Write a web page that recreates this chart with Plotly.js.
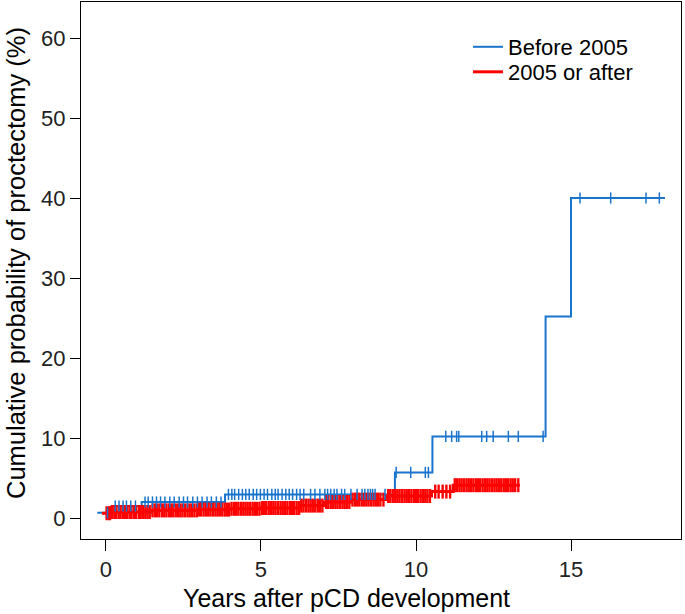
<!DOCTYPE html>
<html>
<head>
<meta charset="utf-8">
<script src="https://cdn.plot.ly/plotly-3.0.1.min.js"></script>
<style>html,body{margin:0;padding:0;background:#fff;}#chart{width:685px;height:614px;}</style>
</head>
<body>
<div id="chart"></div>
<script>
// ---- Data ----
const seriesNames = ["Before 2005", "2005 or after"];

// Before 2005: step start times and cumulative probability (%)
const beforeTimes = [-0.28, 0.18, 1.15, 3.84, 9.32, 10.53, 14.18, 15.0];
const beforeValues = [0.66, 1.5, 2.0, 2.95, 5.7, 10.2, 25.2, 40.0];
const beforeEnd = 18.03;
const beforeCensor = [0.05, 0.3, 0.42, 0.55, 0.66, 0.8, 0.95, 1.26, 1.36, 1.5, 1.63, 1.76, 1.9, 2.06, 2.2, 2.36, 2.5, 2.63, 2.8, 2.95, 3.1, 3.26, 3.4, 3.56, 3.71, 3.95, 4.06, 4.15, 4.28, 4.4, 4.51, 4.62, 4.75, 4.86, 4.98, 5.1, 5.21, 5.35, 5.46, 5.55, 5.68, 5.8, 5.91, 6.02, 6.15, 6.26, 6.38, 6.6, 6.74, 6.9, 7.06, 7.15, 7.25, 7.36, 7.45, 7.6, 7.7, 7.9, 8.1, 8.26, 8.35, 8.45, 8.53, 8.6, 8.68, 9.0, 9.36, 9.83, 10.3, 10.4, 10.96, 11.15, 11.31, 11.38, 12.12, 12.28, 12.49, 12.98, 13.3, 14.1, 15.29, 16.28, 17.42, 17.85];

// 2005 or after
const afterTimes = [-0.13, 0.15, 1.45, 3.0, 4.0, 5.0, 6.25, 7.05, 7.9, 9.05, 10.5, 11.2];
const afterValues = [0.6, 0.75, 0.95, 1.05, 1.15, 1.25, 1.55, 2.0, 2.3, 2.75, 3.3, 4.1];
const afterEnd = 13.35;
const afterCensor = [0.02, 0.09, 0.13, 0.2, 0.27, 0.33, 0.41, 0.47, 0.55, 0.61, 0.68, 0.76, 0.82, 0.9, 0.97, 1.06, 1.12, 1.2, 1.27, 1.34, 1.41, 1.5, 1.58, 1.64, 1.72, 1.81, 1.88, 1.95, 2.03, 2.1, 2.17, 2.25, 2.33, 2.4, 2.47, 2.55, 2.63, 2.7, 2.77, 2.85, 2.93, 3.0, 3.07, 3.15, 3.23, 3.3, 3.37, 3.45, 3.53, 3.6, 3.67, 3.75, 3.83, 3.9, 3.97, 4.05, 4.13, 4.2, 4.27, 4.35, 4.43, 4.5, 4.57, 4.65, 4.73, 4.8, 4.87, 4.95, 5.03, 5.1, 5.17, 5.25, 5.33, 5.4, 5.47, 5.55, 5.63, 5.7, 5.77, 5.85, 5.93, 6.0, 6.07, 6.15, 6.23, 6.3, 6.37, 6.45, 6.53, 6.6, 6.67, 6.75, 6.83, 6.9, 6.98, 7.1, 7.17, 7.25, 7.33, 7.4, 7.47, 7.55, 7.63, 7.7, 7.77, 7.85, 7.95, 8.03, 8.1, 8.17, 8.25, 8.33, 8.4, 8.47, 8.55, 8.63, 8.7, 8.77, 8.85, 8.95, 9.1, 9.17, 9.25, 9.33, 9.4, 9.47, 9.55, 9.63, 9.7, 9.77, 9.85, 9.93, 10.0, 10.07, 10.15, 10.23, 10.3, 10.37, 10.45, 10.62, 10.73, 10.86, 10.98, 11.1, 11.25, 11.32, 11.4, 11.47, 11.55, 11.63, 11.7, 11.77, 11.85, 11.93, 12.0, 12.07, 12.15, 12.23, 12.3, 12.37, 12.45, 12.53, 12.6, 12.67, 12.75, 12.83, 12.9, 12.97, 13.05, 13.12, 13.2, 13.3];

const xTicks = [0, 5, 10, 15];
const yTicks = [0, 10, 20, 30, 40, 50, 60];
const xTitle = "Years after pCD development";
const yTitle = "Cumulative probability of proctectomy (%)";

// ---- helpers ----
function stepAt(times, vals, t) {
  let v = vals[0];
  for (let i = 0; i < times.length; i++) { if (times[i] <= t) v = vals[i]; }
  return v;
}
function stepLine(times, vals, end) {
  return { x: times.concat([end]), y: vals.concat([vals[vals.length - 1]]) };
}

const blue = "#1874CD", red = "#FF0000";
const font = "Liberation Sans, Arial, Helvetica, sans-serif";

const bl = stepLine(beforeTimes, beforeValues, beforeEnd);
const al = stepLine(afterTimes, afterValues, afterEnd);

const traces = [
  { x: bl.x, y: bl.y, mode: "lines", line: { shape: "hv", color: blue, width: 2 }, name: seriesNames[0], showlegend: true, legend: "legend", hoverinfo: "skip" },
  { x: al.x, y: al.y, mode: "lines", line: { shape: "hv", color: red, width: 3 }, name: seriesNames[1], showlegend: true, legend: "legend2", hoverinfo: "skip" },
  { x: afterCensor, y: afterCensor.map(t => stepAt(afterTimes, afterValues, t)), mode: "markers",
    marker: { symbol: "line-ns-open", size: 10, color: red, line: { color: red, width: 2.4 } }, showlegend: false, hoverinfo: "skip" },
  { x: beforeCensor, y: beforeCensor.map(t => stepAt(beforeTimes, beforeValues, t)), mode: "markers",
    marker: { symbol: "line-ns-open", size: 8, color: blue, line: { color: blue, width: 1.5 } }, showlegend: false, hoverinfo: "skip" }
];

const legendBase = {
  x: 0.645, xanchor: "left", yanchor: "top",
  bgcolor: "rgba(0,0,0,0)", borderwidth: 0,
  font: { size: 22, family: font, color: "#000" }
};

const layout = {
  width: 685, height: 614,
  margin: { l: 81, r: 4, t: 2, b: 75, pad: 0 },
  paper_bgcolor: "#fff", plot_bgcolor: "#fff",
  font: { family: font, size: 22, color: "#000" },
  xaxis: {
    range: [-0.806, 18.548], tickvals: xTicks, ticktext: xTicks.map(String),
    ticks: "outside", ticklen: 11, tickwidth: 1, tickcolor: "#000",
    showline: true, linecolor: "#000", linewidth: 1, mirror: true,
    showgrid: false, zeroline: false, tickfont: { size: 22, family: font, color: "#222" }
  },
  yaxis: {
    range: [-2.625, 64.5], tickvals: yTicks, ticktext: yTicks.map(String),
    ticks: "outside", ticklen: 10, tickwidth: 1, tickcolor: "#000",
    showline: true, linecolor: "#000", linewidth: 1, mirror: true,
    showgrid: false, zeroline: false, tickfont: { size: 22, family: font, color: "#222" }
  },
  legend: Object.assign({}, legendBase, { y: (539 - 26) / 537 }),
  legend2: Object.assign({}, legendBase, { y: (539 - 51) / 537 }),
  annotations: [
    { text: xTitle, xref: "paper", yref: "paper", x: (346 - 81) / 600, y: -(598 - 539) / 537,
      xanchor: "center", yanchor: "middle", showarrow: false, font: { size: 25, family: font, color: "#000" } },
    { text: yTitle, xref: "paper", yref: "paper", x: -(81 - 16) / 600, y: (539 - 263) / 537, textangle: -90,
      xanchor: "center", yanchor: "middle", showarrow: false, font: { size: 25.5, family: font, color: "#000" } }
  ]
};

Plotly.newPlot("chart", traces, layout, { staticPlot: true, displayModeBar: false });
</script>
</body>
</html>
